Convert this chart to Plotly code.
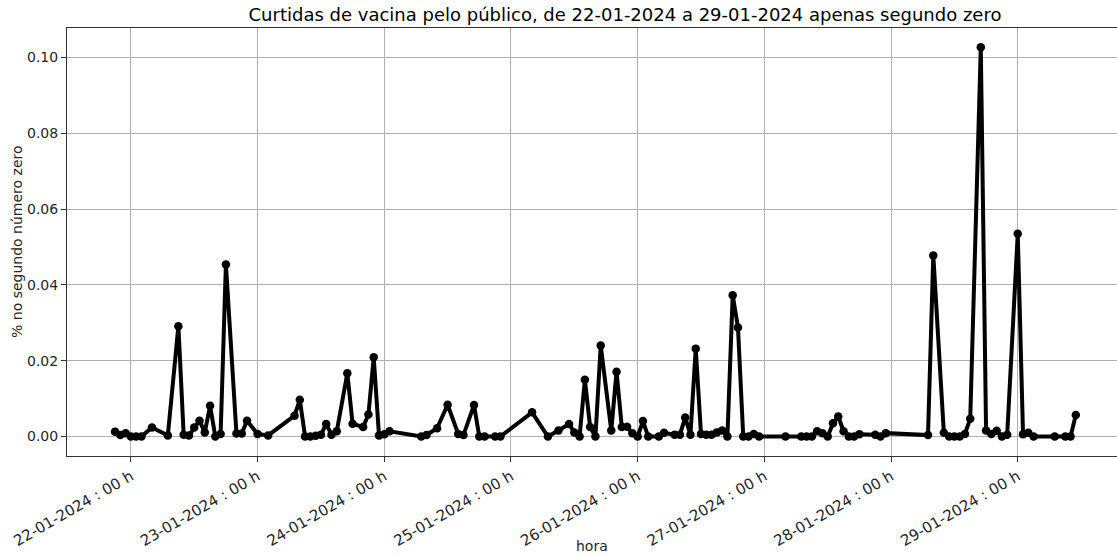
import plotly.graph_objects as go
import pandas as pd

# hours since 22-01-2024 00:00
hours = [-3, -2, -1, 0, 1, 2, 4, 7, 9, 10, 11, 12, 13, 14, 15, 16, 17, 18, 20, 21, 22, 24,
         26, 31, 32, 33, 34, 35, 36, 37, 38, 39, 41, 42, 44, 45, 46, 47, 48, 49,
         55, 56, 58, 60, 62, 63, 65, 66, 67, 69, 70, 76, 79, 81, 83, 84, 85, 86, 87, 88, 89,
         91, 92, 93, 94, 95, 96, 97, 98, 100, 101, 103, 104, 105, 106, 107, 108, 109, 110,
         111, 112, 113, 114, 115, 116, 117, 118, 119, 124, 127, 128, 129, 130, 131, 132, 133,
         134, 135, 136, 137, 138, 141, 142, 143, 151, 152, 154, 155, 156, 157, 158, 159, 161,
         162, 163, 164, 165, 166, 168, 169, 170, 171, 175, 177, 178, 179]
values = [0.0013, 0.0004, 0.0009, 0.0000, 0.0000, 0.0000, 0.0024, 0.0003, 0.0291, 0.0005,
          0.0003, 0.0024, 0.0042, 0.0011, 0.0081, 0.0000, 0.0007, 0.0454, 0.0008, 0.0008,
          0.0042, 0.0007, 0.0003,
          0.0055, 0.0097, 0.0000, 0.0000, 0.0002, 0.0005, 0.0033, 0.0005, 0.0014, 0.0167,
          0.0034, 0.0025, 0.0058, 0.0209, 0.0003, 0.0006, 0.0014,
          0.0000, 0.0004, 0.0022, 0.0084, 0.0007, 0.0004, 0.0083, 0.0000, 0.0000, 0.0000,
          0.0000, 0.0064, 0.0000, 0.0016, 0.0033, 0.0011, 0.0000, 0.0150, 0.0025, 0.0000,
          0.0240, 0.0016, 0.0171, 0.0025, 0.0026, 0.0009, 0.0000, 0.0041, 0.0000, 0.0000,
          0.0010, 0.0005, 0.0005, 0.0050, 0.0005, 0.0232, 0.0007, 0.0005, 0.0005, 0.0011,
          0.0016, 0.0000, 0.0373, 0.0288, 0.0000, 0.0000, 0.0007, 0.0000, 0.0000, 0.0000,
          0.0000, 0.0000, 0.0014, 0.0009, 0.0000, 0.0035, 0.0053, 0.0014, 0.0000, 0.0000,
          0.0006, 0.0005, 0.0000, 0.0009, 0.0004, 0.0478, 0.0010, 0.0000, 0.0000, 0.0000,
          0.0007, 0.0047, 0.1027, 0.0016, 0.0007, 0.0015, 0.0000, 0.0005, 0.0535, 0.0006,
          0.0010, 0.0000, 0.0000, 0.0000, 0.0000, 0.0057]

tick_days = ["2024-01-22", "2024-01-23", "2024-01-24", "2024-01-25",
             "2024-01-26", "2024-01-27", "2024-01-28", "2024-01-29"]
tick_labels = ["22-01-2024 : 00 h", "23-01-2024 : 00 h", "24-01-2024 : 00 h",
               "25-01-2024 : 00 h", "26-01-2024 : 00 h", "27-01-2024 : 00 h",
               "28-01-2024 : 00 h", "29-01-2024 : 00 h"]

base = pd.Timestamp("2024-01-22 00:00")
times = [base + pd.Timedelta(hours=h) for h in hours]

FONT = "DejaVu Sans"
W, H = 1117, 555

fig = go.Figure()
fig.add_trace(go.Scatter(
    x=times, y=values, mode="lines+markers",
    line=dict(color="black", width=4),
    marker=dict(color="black", size=8.5),
    showlegend=False,
))

x0 = base + pd.Timedelta(hours=-12.1)
x1 = base + pd.Timedelta(hours=186.8)

fig.update_layout(
    width=W, height=H,
    margin=dict(l=67, r=0, t=28, b=99, autoexpand=False),
    paper_bgcolor="white", plot_bgcolor="white",
    font=dict(family=FONT, size=14, color="#262626"),
    title=dict(text="Curtidas de vacina pelo público, de 22-01-2024 a 29-01-2024 apenas segundo zero",
               x=625 / W, xref="container", xanchor="center",
               y=1 - 15 / H, yref="container", yanchor="middle",
               font=dict(family=FONT, size=18, color="black")),
    annotations=[
        dict(text="hora", xref="paper", yref="paper",
             x=(592 - 67) / (W - 67), y=-(546 - 456) / (456 - 28),
             xanchor="center", yanchor="middle", showarrow=False,
             font=dict(family=FONT, size=14, color="#262626")),
        dict(text="% no segundo número zero", xref="paper", yref="paper",
             x=-(67 - 17) / (W - 67), y=0.5, textangle=-90,
             xanchor="center", yanchor="middle", showarrow=False,
             font=dict(family=FONT, size=14, color="#262626")),
    ],
)
fig.update_xaxes(
    type="date", range=[x0, x1], automargin=False,
    tickmode="array", tickvals=tick_days, ticktext=tick_labels, tickangle=-30,
    showgrid=True, gridcolor="#b0b0b0", gridwidth=0.8,
    showline=True, linecolor="#333333", linewidth=1, mirror=True,
    ticks="outside", ticklen=5, tickcolor="#333333",
    tickfont=dict(family=FONT, size=15, color="#262626"),
    zeroline=False,
)
fig.update_yaxes(
    range=[-0.00513, 0.1078], automargin=False,
    tickvals=[0.0, 0.02, 0.04, 0.06, 0.08, 0.10], tickformat=".2f",
    showgrid=True, gridcolor="#b0b0b0", gridwidth=0.8,
    showline=True, linecolor="#333333", linewidth=1, mirror=True,
    ticks="outside", ticklen=5, tickcolor="#333333",
    tickfont=dict(family=FONT, size=14, color="#262626"),
    zeroline=False,
)

fig.write_html("out.html", config={"displayModeBar": False},
               post_script="document.body.style.margin='0px';document.body.style.overflow='hidden';")
